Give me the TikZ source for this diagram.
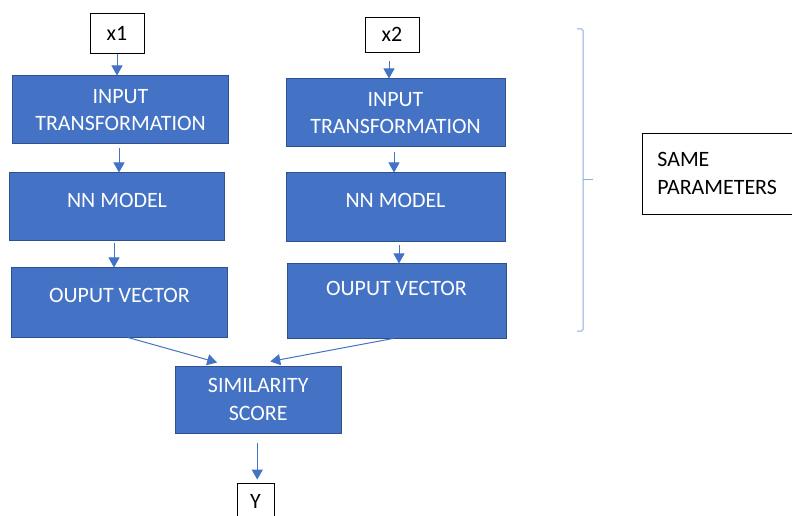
\documentclass[tikz,border=0pt]{standalone}
\usepackage{fontspec}
\setmainfont{Carlito}
\usetikzlibrary{calc,positioning,arrows.meta,shapes}

\definecolor{boxblue}{HTML}{4472C4}
\definecolor{edgeblue}{HTML}{2F528F}
\definecolor{bracketblue}{HTML}{8FAADC}

\begin{document}
\begin{tikzpicture}[
    x=1bp, y=-1bp, font=\fontsize{22}{28}\selectfont,
    block/.style={draw=edgeblue, line width=1bp, fill=boxblue, text=white,
      inner sep=0pt, align=center},
    io/.style={draw=black, line width=0.8bp, inner sep=0pt},
    flow/.style={draw=boxblue, line width=1bp,
      -{Triangle[width=11bp,length=10bp]}}]

    \useasboundingbox (0,0) rectangle (792,516);

    % vertices

    \node[io, minimum width=54bp, minimum height=40bp] (x1) at (117,33) {x1};
    \node[io, minimum width=54bp, minimum height=35bp] (x2) at (392,34.5) {x2};

    \node[block, minimum width=215bp, minimum height=68bp] (in1) at (120.5,110)
      {INPUT\\TRANSFORMATION};
    \node[block, minimum width=214bp, minimum height=68bp,
      text height=15bp, text depth=14.8bp] (nn1) at (117,207) {NN MODEL};
    \node[block, minimum width=215bp, minimum height=69bp,
      text height=15bp, text depth=15.8bp] (out1) at (119.5,302.5) {OUPUT VECTOR};

    \node[block, minimum width=219bp, minimum height=68bp] (in2) at (395.5,113)
      {INPUT\\TRANSFORMATION};
    \node[block, minimum width=219bp, minimum height=69bp,
      text height=15bp, text depth=15.8bp] (nn2) at (395.5,207.5) {NN MODEL};
    \node[block, minimum width=219bp, minimum height=74bp,
      text height=15bp, text depth=26.8bp] (out2) at (396.5,301) {OUPUT VECTOR};

    \node[block, minimum width=165.5bp, minimum height=67bp] (sim) at (258.25,399.5)
      {SIMILARITY\\SCORE};

    \node[io, minimum width=37bp, minimum height=36bp] (y) at (255.5,501) {Y};

    \node[io, anchor=north west, minimum width=160bp, minimum height=81bp,
      text width=130bp, align=left, inner xsep=15bp] (same) at (642,133)
      {SAME\\PARAMETERS};

    % edges

    \draw[flow, shorten <=1bp] (x1) -- (x1 |- in1.north);
    \draw[flow, shorten <=9bp] ([xshift=-3bp]x2.south) -- ([xshift=-3bp]x2.south |- in2.north);

    \draw[flow, shorten <=4bp] ([xshift=-1.5bp]in1.south) -- ([xshift=-1.5bp]in1.south |- nn1.north);
    \draw[flow, shorten <=2bp] ([xshift=-3bp]nn1.south) -- ([xshift=-3bp]nn1.south |- out1.north);

    \draw[flow, shorten <=5bp] ([xshift=-1.5bp]in2.south) -- ([xshift=-1.5bp]in2.south |- nn2.north);
    \draw[flow, shorten <=3bp] ([xshift=3.5bp]nn2.south) -- ([xshift=3.5bp]nn2.south |- out2.north);

    \draw[flow] ([xshift=8.5bp]out1.south) -- ([xshift=-41bp,yshift=3bp]sim.north);
    \draw[flow] ([xshift=-3.5bp]out2.south) -- ([xshift=12bp,yshift=4bp]sim.north);

    \draw[flow, shorten <=9bp, shorten >=3bp] ([xshift=-1bp]sim.south) -- ([xshift=-1bp]sim.south |- y.north);

    % bracket
    \draw[bracketblue, line width=1bp, rounded corners=1.5bp]
      (577,29) -- (583,29) -- (583,331) -- (577,331);
    \draw[bracketblue, line width=1bp] (583,180) -- (593,180);
  \end{tikzpicture}
\end{document}
